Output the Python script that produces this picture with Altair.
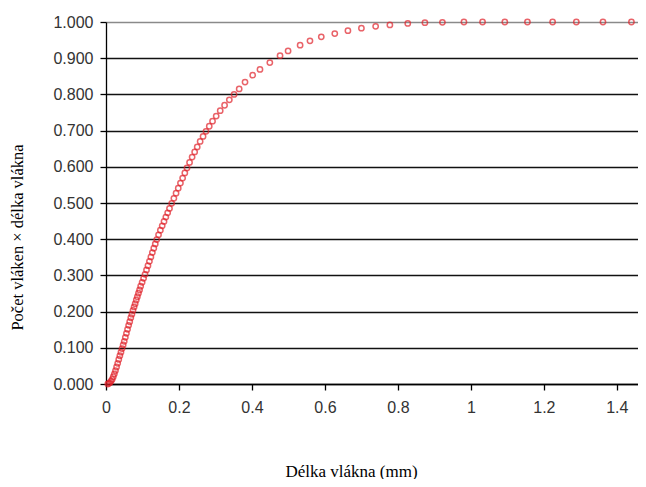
import altair as alt
import pandas as pd

# Fibre length (mm) and cumulative share (count x length)
length_mm = [
    0.005, 0.008, 0.011, 0.014, 0.017, 0.020, 0.023, 0.026, 0.029, 0.032,
    0.035, 0.038, 0.041, 0.044, 0.047, 0.050, 0.053, 0.056, 0.059, 0.062,
    0.065, 0.068, 0.071, 0.074, 0.077, 0.080, 0.083, 0.086, 0.089, 0.092,
    0.095, 0.099, 0.103, 0.107, 0.111, 0.115, 0.119, 0.123, 0.127, 0.131,
    0.135, 0.139, 0.144, 0.149, 0.154, 0.159, 0.164, 0.169, 0.174, 0.180,
    0.186, 0.192, 0.198, 0.204, 0.210, 0.216, 0.222, 0.229, 0.236, 0.243,
    0.250, 0.258, 0.266, 0.274, 0.283, 0.292, 0.302, 0.313, 0.325, 0.338,
    0.351, 0.365, 0.381, 0.402, 0.422, 0.449, 0.477, 0.499, 0.532, 0.559,
    0.590, 0.627, 0.663, 0.700, 0.739, 0.778, 0.827, 0.874, 0.922, 0.981,
    1.032, 1.093, 1.155, 1.224, 1.289, 1.362, 1.440,
]
cumulative = [
    0.000, 0.002, 0.004, 0.008, 0.013, 0.020, 0.028, 0.037, 0.047, 0.057,
    0.068, 0.078, 0.088, 0.098, 0.108, 0.118, 0.129, 0.140, 0.151, 0.162,
    0.172, 0.183, 0.193, 0.203, 0.213, 0.222, 0.232, 0.241, 0.251, 0.260,
    0.270, 0.281, 0.292, 0.303, 0.315, 0.327, 0.339, 0.351, 0.363, 0.375,
    0.387, 0.399, 0.412, 0.425, 0.437, 0.449, 0.461, 0.473, 0.485, 0.499,
    0.513, 0.527, 0.541, 0.555, 0.569, 0.583, 0.597, 0.612, 0.627, 0.641,
    0.655, 0.670, 0.684, 0.698, 0.712, 0.726, 0.740, 0.755, 0.770, 0.785,
    0.800, 0.815, 0.834, 0.853, 0.869, 0.888, 0.907, 0.920, 0.936, 0.948,
    0.959, 0.968, 0.976, 0.983, 0.988, 0.992, 0.996, 0.998, 0.999, 1.000,
    1.000, 1.000, 1.000, 1.000, 1.000, 1.000, 1.000,
]
x_ticks = [0, 0.2, 0.4, 0.6, 0.8, 1.0, 1.2, 1.4]
y_ticks = [0.0, 0.1, 0.2, 0.3, 0.4, 0.5, 0.6, 0.7, 0.8, 0.9, 1.0]

df = pd.DataFrame({"delka": length_mm, "podil": cumulative})

chart = (
    alt.Chart(df)
    .mark_point(shape="circle", filled=False, size=28, strokeWidth=1.5, color="#e0222a")
    .encode(
        x=alt.X(
            "delka:Q",
            scale=alt.Scale(domain=[0, 1.458], nice=False, zero=False),
            axis=alt.Axis(
                values=x_ticks,
                format="~g",
                title="Délka vlákna (mm)",
                grid=False,
                domainColor="black",
                domainWidth=1.3,
                tickColor="black",
                tickWidth=1.3,
                tickSize=6,
                labelFont="Liberation Sans",
                labelFontSize=16,
                labelColor="#333333",
                labelPadding=9,
                labelFlush=False,
                titleFont="Liberation Serif",
                titleFontSize=17,
                titleFontWeight="normal",
                titleColor="black",
                titleX=245,
                titleY=92,
                titleBaseline="alphabetic",
                titleAlign="center",
                titleAnchor="start",
            ),
        ),
        y=alt.Y(
            "podil:Q",
            scale=alt.Scale(domain=[0, 1], nice=False),
            axis=alt.Axis(
                values=y_ticks,
                format=".3f",
                title="Počet vláken × délka vlákna",
                grid=True,
                gridColor=alt.condition("datum.value === 1", alt.value("#8a8a8a"), alt.value("#111111")),
                gridWidth=1.5,
                domainColor="black",
                domainWidth=1.3,
                tickColor="black",
                tickWidth=1.3,
                tickSize=6,
                labelFont="Liberation Sans",
                labelFontSize=16,
                labelColor="#333333",
                labelPadding=7,
                labelFlush=False,
                titleFont="Liberation Serif",
                titleFontSize=16.5,
                titleFontWeight="normal",
                titleColor="black",
                titleX=-89,
                titleY=215,
                titleAngle=270,
                titleBaseline="middle",
                titleAlign="center",
                titleAnchor="start",
            ),
        ),
    )
    .properties(
        width=532,
        height=362,
        autosize=alt.AutoSizeParams(type="none"),
        padding={"left": 98, "top": 14, "right": 0, "bottom": 95},
        background="white",
    )
    .configure_view(stroke=None)
)

chart.save("out.html", embed_options={"renderer": "svg", "actions": False})
